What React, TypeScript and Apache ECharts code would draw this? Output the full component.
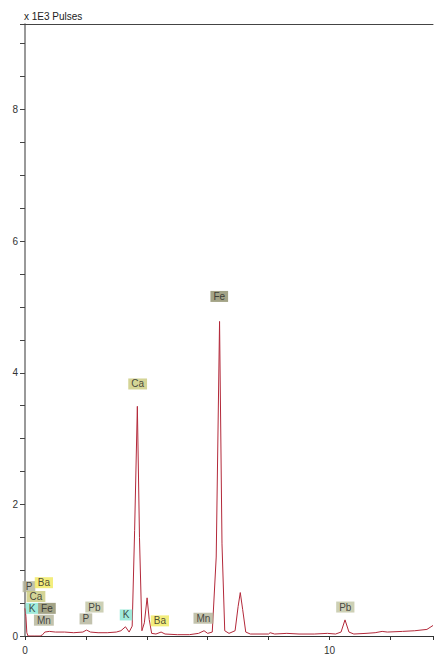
import React, { useEffect, useRef } from "react";
import * as echarts from "echarts";

// Spectrum trace (keV, x1E3 pulses)
const energy = [
  0.0, 0.03, 0.06, 0.1, 0.3, 0.5, 0.58, 0.65, 0.8, 1.0, 1.3, 1.6, 1.9, 2.02, 2.15, 2.4, 2.7,
  3.0, 3.15, 3.3, 3.42, 3.52, 3.6, 3.69, 3.76, 3.84, 3.92, 4.01, 4.08, 4.16, 4.3, 4.47, 4.6,
  5.0, 5.4, 5.7, 5.88, 6.0, 6.15, 6.28, 6.39, 6.47, 6.56, 6.7, 6.9, 7.0, 7.07, 7.15, 7.25,
  7.4, 8.0, 8.05, 8.2, 8.6, 9.0, 9.5, 9.93, 10.2, 10.38, 10.51, 10.64, 10.8, 11.2, 11.5,
  11.73, 11.9, 12.4, 12.8, 13.2, 13.4,
];
const counts = [
  0.42, 0.3, 0.05, 0.0, 0.0, 0.0, 0.02, 0.06, 0.07, 0.06, 0.06, 0.05, 0.06, 0.09, 0.06, 0.05, 0.05,
  0.06, 0.08, 0.14, 0.06, 0.15, 1.6, 3.49, 1.5, 0.08, 0.2, 0.58, 0.25, 0.04, 0.03, 0.06, 0.03,
  0.02, 0.02, 0.04, 0.08, 0.04, 0.06, 1.2, 4.78, 1.4, 0.08, 0.04, 0.08, 0.45, 0.66, 0.4, 0.06,
  0.03, 0.03, 0.05, 0.03, 0.04, 0.03, 0.03, 0.04, 0.03, 0.06, 0.245, 0.06, 0.03, 0.04, 0.05,
  0.07, 0.06, 0.07, 0.08, 0.1, 0.16,
];

// Element marker labels (name, anchor energy, anchor height)
const markerNames = ["P", "Ba", "Ca", "K", "Fe", "Mn", "Pb", "P", "K", "Ca", "Ba", "Mn", "Fe", "Pb"];
const markerX = [0.13, 0.62, 0.36, 0.23, 0.72, 0.62, 2.28, 2.0, 3.32, 3.7, 4.43, 5.86, 6.38, 10.52];
const markerY = [0.75, 0.81, 0.6, 0.42, 0.42, 0.24, 0.44, 0.26, 0.32, 3.83, 0.23, 0.27, 5.16, 0.44];

const yTickLabels = [0, 2, 4, 6, 8];
const xTickLabels = [0, 10];

const elementColors: Record<string, string> = {
  P: "#b3b399",
  Ba: "#f0e85c",
  Ca: "#c9c97c",
  K: "#88e6d2",
  Fe: "#8c8c68",
  Mn: "#b3b397",
  Pb: "#c0c4a2",
};

const FONT = "'Liberation Sans', Arial, sans-serif";

export default function App() {
  const ref = useRef<HTMLDivElement>(null);
  useEffect(() => {
    document.body.style.margin = "0";
    document.body.style.overflow = "hidden";
    if (!ref.current) return;
    const chart = echarts.init(ref.current, undefined, { renderer: "svg" });
    const lineData = energy.map((e, i) => [e, counts[i]]);
    const markerData = markerNames.map((n, i) => ({
      name: n,
      value: [markerX[i], markerY[i]],
      label: { backgroundColor: elementColors[n] },
    }));
    chart.setOption({
      animation: false,
      textStyle: { fontFamily: FONT },
      title: {
        text: "x 1E3 Pulses",
        left: 24,
        top: 11,
        padding: 0,
        textStyle: { fontSize: 10, fontWeight: "normal", color: "#222", fontFamily: FONT },
      },
      grid: { left: 25, right: 0, top: 24, bottom: 13, containLabel: false },
      xAxis: [
        {
          type: "value",
          min: 0,
          max: 13.4,
          interval: 2,
          axisLine: { show: true, lineStyle: { color: "#333", width: 1 } },
          axisTick: { show: true, length: 4, lineStyle: { color: "#333" } },
          axisLabel: {
            fontSize: 10,
            color: "#333",
            margin: 9,
            fontFamily: FONT,
            formatter: (v: number) => (xTickLabels.includes(v) ? String(v) : ""),
          },
          splitLine: { show: false },
        },
        {
          type: "value",
          position: "top",
          min: 0,
          max: 13.4,
          axisLine: { show: true, lineStyle: { color: "#444", width: 1 } },
          axisTick: { show: false },
          axisLabel: { show: false },
          splitLine: { show: false },
        },
      ],
      yAxis: {
        type: "value",
        min: 0,
        max: 9.3,
        interval: 0.5,
        axisLine: { show: true, lineStyle: { color: "#777", width: 1.5 } },
        axisTick: { show: true, length: 5, lineStyle: { color: "#444" } },
        axisLabel: {
          fontSize: 10,
          color: "#333",
          margin: 7,
          fontFamily: FONT,
          formatter: (v: number) => (yTickLabels.includes(v) ? String(v) : ""),
        },
        splitLine: { show: false },
      },
      series: [
        {
          type: "line",
          data: lineData,
          showSymbol: false,
          smooth: false,
          lineStyle: { color: "#b3293a", width: 1 },
          itemStyle: { color: "#b3293a" },
          z: 2,
        },
        {
          type: "scatter",
          data: markerData,
          symbolSize: 1,
          itemStyle: { color: "rgba(0,0,0,0)" },
          label: {
            show: true,
            position: "inside",
            formatter: "{b}",
            fontSize: 10,
            color: "#222",
            fontFamily: FONT,
            padding: [1, 3, 0, 3],
          },
          z: 3,
        },
      ],
    });
    return () => chart.dispose();
  }, []);
  return (
    <div
      style={{
        position: "fixed",
        left: 0,
        top: 0,
        width: 436,
        height: 655,
        overflow: "hidden",
        background: "#fff",
      }}
    >
      <div ref={ref} style={{ width: 436, height: 655 }} />
    </div>
  );
}
